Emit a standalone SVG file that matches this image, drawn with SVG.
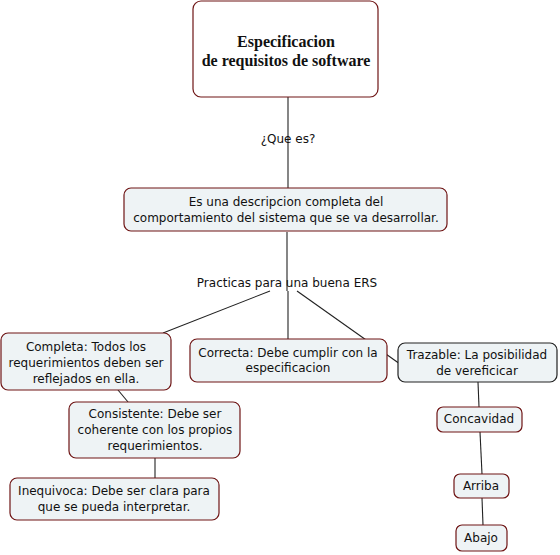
<svg xmlns="http://www.w3.org/2000/svg" width="560" height="555" viewBox="0 0 560 555">
<style>
.n{fill:#eef3f5;stroke:#6e1414;stroke-width:1.2}
.t{font-family:"DejaVu Sans",Verdana,sans-serif;font-size:12px;fill:#111;text-anchor:middle}
.c{stroke:#222;stroke-width:1.1;fill:none}
.lb{font-family:"DejaVu Sans",Verdana,sans-serif;font-size:12px;fill:#111;text-anchor:middle}
.h{font-family:'Liberation Serif','Times New Roman',serif;font-weight:bold;font-size:16px;text-anchor:middle;fill:#111}
</style>
<rect width="560" height="555" fill="#fff"/>
<g id="connectors">
<line class="c" x1="288" y1="97" x2="288" y2="188"/>
<line class="c" x1="287" y1="232" x2="287" y2="291"/>
<line class="c" x1="270" y1="291" x2="163" y2="333"/>
<line class="c" x1="288" y1="291" x2="288" y2="339"/>
<line class="c" x1="297" y1="291" x2="400" y2="364"/>
<line class="c" x1="118" y1="390" x2="128" y2="402"/>
<line class="c" x1="155" y1="458" x2="155" y2="478"/>
<line class="c" x1="478" y1="382" x2="479" y2="407"/>
<line class="c" x1="480" y1="432" x2="482" y2="474"/>
<line class="c" x1="482" y1="498" x2="483" y2="525"/>
<text class="lb" x="288" y="143">¿Que es?</text>
<text class="lb" x="287" y="287">Practicas para una buena ERS</text>
</g>
<g id="title">
<rect x="193" y="1" width="185" height="96" rx="8" fill="#fff" stroke="#6e1414" stroke-width="1.2"/>
<text class="h" x="286" y="47">Especificacion</text>
<text class="h" x="286" y="66">de requisitos de software</text>
</g>
<g id="definicion">
<rect class="n" x="124" y="188" width="323" height="43" rx="7"/>
<text class="t" x="286" y="206">Es una descripcion completa del</text>
<text class="t" x="286" y="222">comportamiento del sistema que se va desarrollar.</text>
</g>
<g id="completa">
<rect class="n" x="1" y="333" width="170" height="57" rx="7"/>
<text class="t" x="86" y="351">Completa: Todos los</text>
<text class="t" x="86" y="367">requerimientos deben ser</text>
<text class="t" x="86" y="383">reflejados en ella.</text>
</g>
<g id="correcta">
<rect class="n" x="190" y="339" width="197" height="43" rx="7"/>
<text class="t" x="288" y="357">Correcta: Debe cumplir con la</text>
<text class="t" x="288" y="372">especificacion</text>
</g>
<g id="trazable">
<rect x="398" y="343" width="159" height="39" rx="7" fill="#eef3f5" stroke="#222" stroke-width="1.2"/>
<text class="t" x="477" y="359">Trazable: La posibilidad</text>
<text class="t" x="477" y="375">de vereficicar</text>
</g>
<g id="consistente">
<rect class="n" x="69" y="402" width="171" height="56" rx="7"/>
<text class="t" x="155" y="418">Consistente: Debe ser</text>
<text class="t" x="155" y="434">coherente con los propios</text>
<text class="t" x="155" y="450">requerimientos.</text>
</g>
<g id="inequivoca">
<rect class="n" x="10" y="478" width="209" height="42" rx="7"/>
<text class="t" x="114" y="495">Inequivoca: Debe ser clara para</text>
<text class="t" x="114" y="511">que se pueda interpretar.</text>
</g>
<g id="concavidad">
<rect class="n" x="437" y="407" width="85" height="25" rx="6"/>
<text class="t" x="479" y="423">Concavidad</text>
</g>
<g id="arriba">
<rect class="n" x="454" y="474" width="55" height="24" rx="6"/>
<text class="t" x="481" y="490">Arriba</text>
</g>
<g id="abajo">
<rect class="n" x="456" y="525" width="51" height="26" rx="6"/>
<text class="t" x="481" y="542">Abajo</text>
</g>
</svg>
